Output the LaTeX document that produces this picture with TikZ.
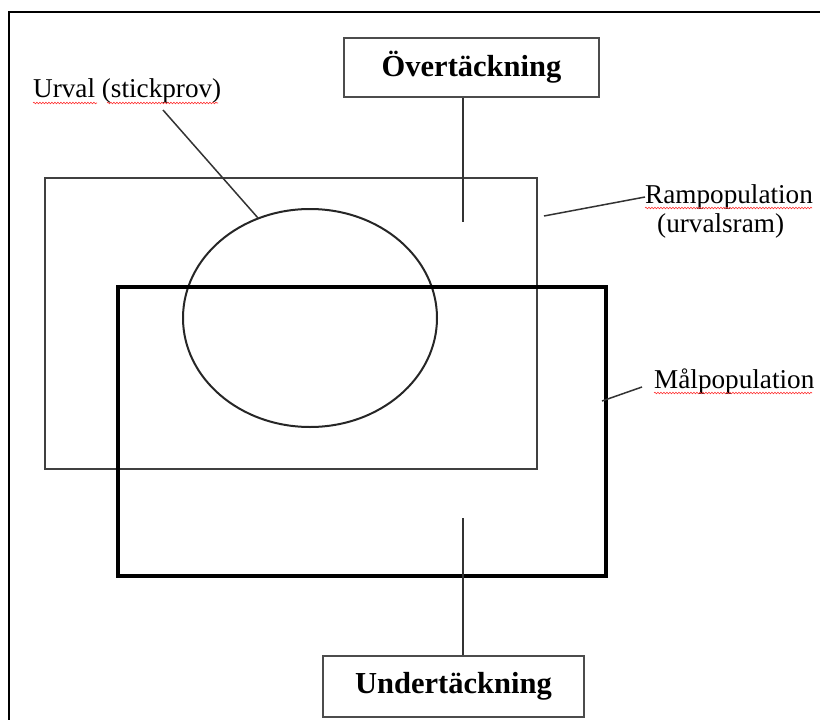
\documentclass[tikz,border=0pt]{standalone}
\usepackage{fontspec}
\setmainfont{Liberation Serif}
\usetikzlibrary{decorations.pathmorphing,shapes.geometric}
\begin{document}
\begin{tikzpicture}[x=1pt,y=-1pt,
  thinline/.style={draw=black!80,line width=1.5pt},
  labelbox/.style={draw=black!70,line width=1.5pt,fill=white,inner sep=0pt,font=\fontsize{30.5}{32}\selectfont\bfseries},
  lbl/.style={inner sep=0pt,anchor=base west,font=\fontsize{27.2}{30}\selectfont},
  squiggle/.style={draw=red!80,line width=0.6pt,decorate,decoration={snake,amplitude=0.8pt,segment length=3pt}}]
\useasboundingbox (0,0) rectangle (820,720);
\clip (0,0) rectangle (820,720);
% outer frame
\coordinate (fbl) at (9,722);
\coordinate (ftl) at (9,12);
\coordinate (ftr) at (822,12);
\draw[line width=2pt] (fbl) -- (ftl) -- (ftr);
% rampopulation rectangle
\draw[draw=black!75,line width=1.5pt] (45,178) rectangle (537,469);
% ellipse (urval)
\node[draw=black!85,line width=2pt,ellipse,minimum width=254,minimum height=218,inner sep=0pt] (urv) at (310,318) {};
% target population (thick)
\draw[line width=4pt] (118,287) rectangle (606,576);
% boxes
\node[labelbox,minimum width=255,minimum height=59] (over) at (471.5,67.5) {Övertäckning};
\node[labelbox,minimum width=261,minimum height=61] (under) at (453.5,686.5) {Undertäckning};
\coordinate (overend) at (463,222);
\coordinate (underend) at (463,518);
\draw[thinline] (over.south -| overend) -- (overend);
\draw[thinline] (under.north -| underend) -- (underend);
% labels
\node[lbl] (urvlbl) at (33,97) {Urval (stickprov)};
\node[lbl] (ramlbl) at (645,203) {Rampopulation};
\node[lbl] (ramlbl2) at (657,232) {(urvalsram)};
\node[lbl] (mallbl) at (654,388) {Målpopulation};
% leaders
\coordinate (urvtip) at (258,218);
\draw[thinline] (163,110) -- (urvtip);
\coordinate (ramtip) at (544,216);
\draw[thinline] (ramlbl.west |- 0,197) -- (ramtip);
\coordinate (maltip) at (602,401);
\draw[thinline] (642,387) -- (maltip);
% spell-check squiggles
\draw[squiggle] (33,103) -- (97,103);
\draw[squiggle] (107,103) -- (218,103);
\draw[squiggle] (645,208) -- (812,208);
\draw[squiggle] (654,393) -- (812,393);
\end{tikzpicture}
\end{document}
